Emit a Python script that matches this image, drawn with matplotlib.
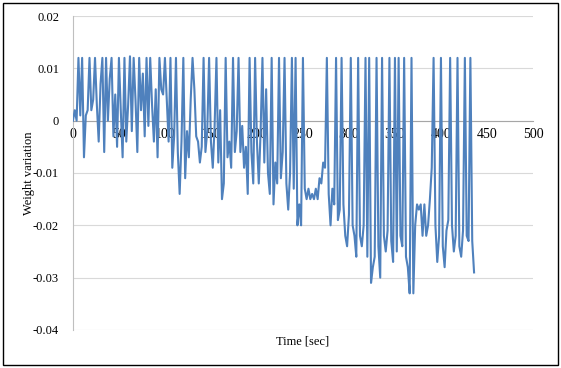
import matplotlib
matplotlib.use("Agg")
import matplotlib.pyplot as plt
from matplotlib.patches import Rectangle

# sampled every 2 s
time_sec = list(range(0, 437, 2))
weight_var = [
    0.000, 0.002, 0.000, 0.012, 0.001, 0.012, -0.007, 0.001, 0.002, 0.012,
    0.002, 0.004, 0.012, 0.003, -0.004, 0.007, 0.012, -0.006, 0.012, 0.000,
    0.008, 0.012, -0.003, 0.005, -0.005, 0.012, 0.002, -0.007, 0.012, -0.004,
    0.003, 0.0123, -0.002, 0.012, 0.004, -0.006, 0.012, 0.002, 0.009, -0.003,
    0.012, -0.001, 0.012, 0.003, -0.004, 0.006, -0.007, 0.012, 0.006, 0.005,
    0.012, 0.004, -0.004, 0.012, -0.009, -0.003, 0.012, -0.006, -0.014, -0.004,
    0.012, -0.011, -0.002, -0.007, 0.004, 0.012, 0.006, -0.003, -0.004, -0.008,
    -0.005, 0.012, -0.006, -0.002, 0.012, -0.004, -0.009, -0.001, 0.012, -0.008,
    0.002, -0.015, -0.012, 0.012, -0.007, -0.004, -0.009, 0.012, -0.006, -0.002,
    0.012, -0.006, -0.001, -0.009, -0.005, -0.014, 0.012, -0.006, -0.012, 0.012,
    -0.004, -0.012, -0.002, 0.012, -0.008, 0.006, -0.010, -0.014, 0.012, -0.016,
    -0.008, -0.012, 0.012, -0.011, -0.006, 0.012, -0.012, -0.017, -0.010, 0.012,
    -0.013, 0.012, -0.020, -0.016, -0.020, 0.012, -0.013, -0.015, -0.013, -0.015,
    -0.014, -0.015, -0.013, -0.015, -0.011, -0.012, -0.008, -0.009, 0.012, -0.014,
    -0.020, -0.013, -0.016, 0.012, -0.019, -0.017, 0.012, -0.016, -0.022, -0.024,
    -0.018, 0.012, -0.020, -0.022, -0.026, 0.012, -0.022, -0.024, -0.020, 0.012,
    -0.026, 0.012, -0.031, -0.028, -0.026, 0.012, -0.024, -0.030, 0.012, -0.022,
    -0.025, -0.021, 0.012, -0.023, -0.027, 0.012, -0.025, 0.012, -0.022, -0.024,
    0.012, -0.026, -0.028, -0.033, 0.012, -0.033, -0.020, -0.016, -0.017, -0.016,
    -0.022, -0.016, -0.022, -0.020, -0.015, -0.009, 0.012, -0.020, -0.027, -0.022,
    0.012, -0.024, -0.028, -0.021, -0.019, 0.012, -0.020, -0.025, -0.022, 0.012,
    -0.024, -0.026, -0.021, 0.012, -0.022, -0.023, 0.012, -0.023, -0.029,
]
x_ticks = [0, 50, 100, 150, 200, 250, 300, 350, 400, 450, 500]
y_ticks = [-0.04, -0.03, -0.02, -0.01, 0, 0.01, 0.02]
y_labels = ["-0.04", "-0.03", "-0.02", "-0.01", "0", "0.01", "0.02"]

plt.rcParams['font.family'] = ['Liberation Serif', 'DejaVu Serif']

fig = plt.figure(figsize=(5.61, 3.68), dpi=100)
ax = fig.add_axes([0.130, 0.1033, 0.820, 0.8532])

ax.plot(time_sec, weight_var, color="#4F81BD", lw=1.5, zorder=3)

ax.set_xlim(0, 500)
ax.set_ylim(-0.04, 0.02)
ax.set_xticks(x_ticks)
ax.set_xticklabels([str(v) for v in x_ticks], fontsize=9)
ax.set_yticks(y_ticks)
ax.set_yticklabels(y_labels, fontsize=9)
ax.tick_params(axis='both', length=0, colors='black')
ax.tick_params(axis='y', pad=10)
ax.tick_params(axis='x', pad=5)

ax.grid(axis='y', color="#D9D9D9", lw=0.8, zorder=0)
for s in ['top', 'right']:
    ax.spines[s].set_visible(False)
ax.spines['left'].set_color("#BFBFBF")
ax.spines['left'].set_linewidth(0.8)
ax.spines['bottom'].set_position(('data', 0))
ax.spines['bottom'].set_color("#A6A6A6")
ax.spines['bottom'].set_linewidth(0.8)

ax.set_ylabel("Weight variation", fontsize=9)
ax.yaxis.set_label_coords(-0.083, 0.5)
fig.text(0.540, 0.072, "Time [sec]", ha='center', va='center', fontsize=9)

fig.patches.append(Rectangle((0.005, 0.008), 0.990, 0.984, transform=fig.transFigure,
                             fill=False, edgecolor='black', lw=1.0))

fig.savefig("out.png", dpi=100)
